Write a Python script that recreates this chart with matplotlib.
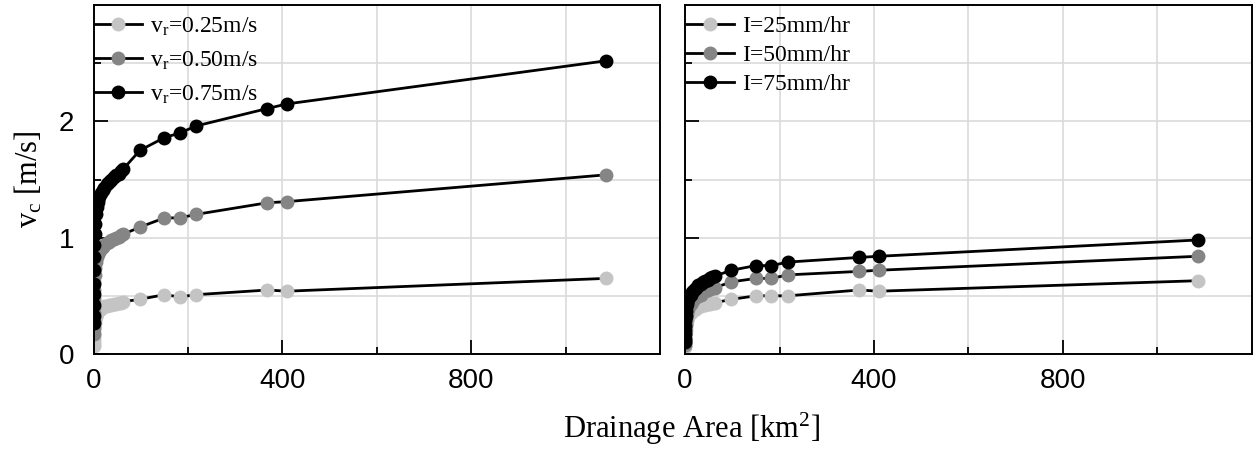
import matplotlib
matplotlib.use("Agg")
import matplotlib.pyplot as plt
from matplotlib.ticker import FixedLocator

plt.rcParams["font.family"] = "Liberation Sans"
plt.rcParams["mathtext.fontset"] = "custom"
plt.rcParams["mathtext.rm"] = "Liberation Serif"
plt.rcParams["mathtext.it"] = "Liberation Serif:italic"

# --- data ---
area = [0.05, 0.1, 0.2, 0.35, 0.5, 0.8, 1.2, 1.8, 2.5, 3.5, 5, 7, 9, 12, 15, 19,
        23, 28, 33, 38, 43, 48, 53, 58, 63, 98, 150, 183, 217, 368, 410, 1085]

# left panel: rainfall fixed, varying v_r
vr_025 = [0.07, 0.09, 0.11, 0.14, 0.16, 0.19, 0.22, 0.25, 0.27, 0.30, 0.32, 0.34,
          0.37, 0.38, 0.39, 0.40, 0.41, 0.41, 0.42, 0.42, 0.43, 0.43, 0.44, 0.44,
          0.45, 0.47, 0.51, 0.49, 0.51, 0.55, 0.54, 0.65]
vr_050 = [0.17, 0.22, 0.28, 0.35, 0.40, 0.48, 0.55, 0.62, 0.68, 0.74, 0.79, 0.83,
          0.86, 0.88, 0.90, 0.92, 0.94, 0.95, 0.96, 0.98, 0.99, 1.00, 1.01, 1.02,
          1.03, 1.09, 1.17, 1.17, 1.20, 1.30, 1.31, 1.54]
vr_075 = [0.27, 0.33, 0.42, 0.52, 0.60, 0.72, 0.83, 0.94, 1.03, 1.12, 1.20, 1.26,
          1.31, 1.35, 1.38, 1.41, 1.43, 1.46, 1.48, 1.50, 1.52, 1.54, 1.55, 1.57,
          1.59, 1.75, 1.86, 1.90, 1.96, 2.11, 2.15, 2.52]

# right panel: v_r fixed, varying rainfall intensity
i_25 = [0.06, 0.08, 0.10, 0.12, 0.14, 0.17, 0.20, 0.23, 0.25, 0.28, 0.30, 0.32,
        0.34, 0.35, 0.37, 0.38, 0.39, 0.40, 0.41, 0.42, 0.42, 0.43, 0.43, 0.44,
        0.44, 0.47, 0.50, 0.50, 0.50, 0.55, 0.54, 0.63]
i_50 = [0.08, 0.10, 0.13, 0.16, 0.19, 0.23, 0.26, 0.29, 0.32, 0.35, 0.37, 0.39,
        0.41, 0.43, 0.45, 0.47, 0.49, 0.50, 0.51, 0.53, 0.54, 0.55, 0.56, 0.57,
        0.57, 0.62, 0.65, 0.65, 0.68, 0.71, 0.72, 0.84]
i_75 = [0.10, 0.13, 0.17, 0.21, 0.24, 0.29, 0.33, 0.37, 0.40, 0.43, 0.45, 0.47,
        0.49, 0.51, 0.53, 0.55, 0.57, 0.59, 0.60, 0.62, 0.63, 0.64, 0.65, 0.66,
        0.67, 0.72, 0.76, 0.76, 0.79, 0.83, 0.84, 0.98]

left_labels = [r"v$_{\rm r}$=0.25m/s", r"v$_{\rm r}$=0.50m/s", r"v$_{\rm r}$=0.75m/s"]
right_labels = ["I=25mm/hr", "I=50mm/hr", "I=75mm/hr"]
marker_cols = ["#C4C4C4", "#858585", "#000000"]

x_major = [0, 400, 800]
x_minor = [200, 600, 1000]
y_major = [0, 1, 2]
y_minor = [0.5, 1.5, 2.5]

SERIF = "Liberation Serif"

fig = plt.figure(figsize=(12.59, 4.63), dpi=100)
ax1 = fig.add_axes([0.0743, 0.2354, 0.4500, 0.7538])
ax2 = fig.add_axes([0.5441, 0.2354, 0.4503, 0.7538], sharey=ax1)


def draw(ax, series, labels, spacing):
    for ys, lab, mc in zip(series, labels, marker_cols):
        ax.plot(area, ys, "-o", color="black", lw=2.0, ms=9,
                markerfacecolor=mc, markeredgecolor=mc, label=lab)
    ax.set_xlim(0, 1200)
    ax.set_ylim(0, 3)
    ax.xaxis.set_major_locator(FixedLocator(x_major))
    ax.xaxis.set_minor_locator(FixedLocator(x_minor))
    ax.yaxis.set_major_locator(FixedLocator(y_major))
    ax.yaxis.set_minor_locator(FixedLocator(y_minor))
    ax.grid(True, which="both", color="#DADADA", lw=1.2, zorder=0)
    ax.set_axisbelow(True)
    ax.tick_params(which="both", direction="in", top=False, right=False,
                   labelsize=20, width=1.3)
    ax.tick_params(which="major", length=10)
    ax.tick_params(axis="x", which="major", pad=10)
    ax.tick_params(axis="y", which="major", pad=14)
    ax.tick_params(which="minor", length=5)
    for s in ax.spines.values():
        s.set_linewidth(1.4)
    ax.legend(loc="upper left", frameon=False, numpoints=1,
              handlelength=2.0, handletextpad=0.35, labelspacing=spacing,
              borderaxespad=0.0, borderpad=0.15,
              bbox_to_anchor=(-0.004, 0.98),
              prop={"family": SERIF, "size": 17})


draw(ax1, [vr_025, vr_050, vr_075], left_labels, 0.5)
draw(ax2, [i_25, i_50, i_75], right_labels, 0.32)
plt.setp(ax2.get_yticklabels(), visible=False)

ax1.set_ylabel(r"v$_{\rm c}$ [m/s]", family=SERIF, fontsize=22, labelpad=10)
fig.text(0.549, 0.054, r"Drainage Area [km$^{\rm 2}$]", family=SERIF,
         fontsize=22, ha="center", va="baseline")

fig.savefig("out.png", dpi=100, facecolor="white")
